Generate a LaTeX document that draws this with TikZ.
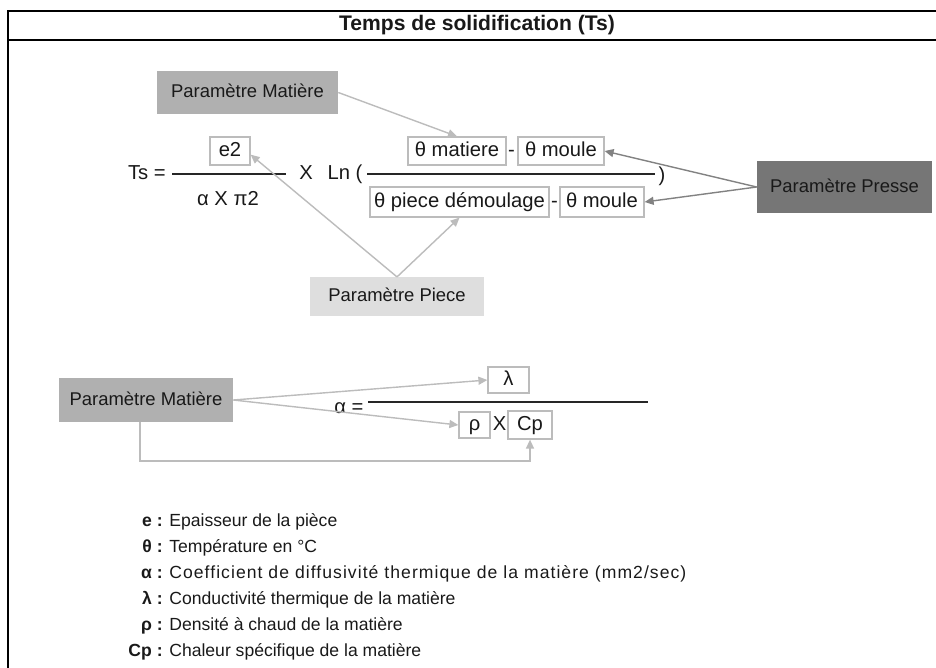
\documentclass[tikz,border=0pt]{standalone}
\usepackage{fontspec}
\setmainfont{Liberation Sans}
\usetikzlibrary{arrows.meta, positioning}

\definecolor{gmat}{RGB}{176,176,176}
\definecolor{gpresse}{RGB}{118,118,118}
\definecolor{gpiece}{RGB}{222,222,222}
\definecolor{gline}{RGB}{188,188,188}
\definecolor{gdark}{RGB}{130,130,130}

\begin{document}
\begin{tikzpicture}[
    x=0.02cm, y=-0.02cm,
    >={Triangle[length=1.8mm, width=1.6mm]},
    every node/.style={inner sep=0pt, text=black!90, font=\fontsize{11.5}{13}\selectfont,
        text height=1.6ex, text depth=0.45ex},
    frame/.style={draw=black, line width=1.2pt},
    title/.style={font=\fontsize{12}{14}\selectfont\bfseries},
    param/.style={draw=none, minimum height=#1, align=center, font=\fontsize{10.5}{12}\selectfont},
    matbox/.style={param=0.87cm, fill=gmat},
    pressebox/.style={param=1.05cm, fill=gpresse},
    piecebox/.style={param=0.77cm, fill=gpiece},
    valbox/.style={draw=gline, line width=0.7pt, fill=white, minimum height=0.56cm},
    frac/.style={draw=black!85, line width=0.8pt},
    garrow/.style={->, draw=gline, line width=0.8pt},
    parrow/.style={->, draw=gdark, line width=0.8pt},
    key/.style={anchor=base east, font=\fontsize{10}{12}\selectfont\bfseries},
    keytxt/.style={anchor=base west, font=\fontsize{10}{12}\selectfont}
]
\useasboundingbox (0,0) rectangle (936,667);

% cadre et titre
\draw[frame] (945,11) -- (8,11) -- (8,680);
\draw[frame] (8,40) -- (945,40);
\node[title] (title) at (477,25.5) {Temps de solidification (Ts)};

% formule Ts
\node[matbox, minimum width=3.62cm] (mat_top) at (247.5,92.5) {Paramètre Matière};
\node[anchor=east] (ts) at (166,174) {Ts =};
\coordinate (ts_l) at (172,174);
\coordinate (ts_r) at (286,174);
\draw[frac] (ts_l) -- (ts_r);
\node[valbox, minimum width=0.8cm] (e2) at (230,151) {e2};
\node (ts_den) at (228,200) {α X π2};
\node (times) at (306,174) {X};
\node (ln) at (345,174) {Ln (};
\coordinate (ln_l) at (367,174);
\coordinate (ln_r) at (655,174);
\draw[frac] (ln_l) -- (ln_r);
\node (ln_close) at (662,176) {)};

\node[valbox, minimum width=1.96cm] (th_mat) at (457,151) {θ matiere};
\node (minus_top) at (511.5,151) {-};
\node[valbox, minimum width=1.72cm] (th_moule_top) at (561,151) {θ moule};
\node[valbox, minimum width=3.58cm, minimum height=0.6cm] (th_piece) at (459.5,202) {θ piece démoulage};
\node (minus_bot) at (554.5,202) {-};
\node[valbox, minimum width=1.68cm, minimum height=0.6cm] (th_moule_bot) at (602,202) {θ moule};

\node[pressebox, minimum width=3.5cm] (presse) at (844.5,187) {Paramètre Presse};
\node[piecebox, minimum width=3.48cm] (piece) at (397,296.5) {Paramètre Piece};

\draw[garrow] (mat_top.east) -- (th_mat.north);
\draw[parrow] (presse.west) -- (th_moule_top.east);
\draw[parrow] (presse.west) -- (th_moule_bot.east);
\draw[garrow] (piece.north) -- (e2.-10);
\draw[garrow] (piece.north) -- (th_piece.south);

% formule alpha
\node[matbox, minimum width=3.48cm] (mat_bot) at (146,400) {Paramètre Matière};
\node (alpha_eq) at (349,408) {α =};
\coordinate (al_l) at (368,402);
\coordinate (al_r) at (648,402);
\draw[frac] (al_l) -- (al_r);
\node[valbox, minimum width=0.82cm, minimum height=0.52cm] (lambda) at (508.5,380) {λ};
\node[valbox, minimum width=0.62cm, minimum height=0.52cm] (rho) at (474.5,425) {ρ};
\node (times_b) at (499.5,425) {X};
\node[valbox, minimum width=0.88cm, minimum height=0.56cm] (cp) at (530,425) {Cp};

\draw[garrow] (mat_bot.east) -- (lambda.west);
\draw[garrow] (mat_bot.east) -- (rho.west);
\draw[garrow] ([xshift=-0.12cm]mat_bot.south) -- ++(0,39) -| (cp.south);

% legende
\node[key] (key_e) at (163,526) {e :};
\node[keytxt, right=1.2mm of key_e.base east, anchor=base west] {Epaisseur de la pièce};
\node[key] (key_theta) at (163,552) {θ :};
\node[keytxt, right=1.2mm of key_theta.base east, anchor=base west] {Température en °C};
\node[key] (key_alpha) at (163,578) {α :};
\node[keytxt, right=1.2mm of key_alpha.base east, anchor=base west, font=\fontsize{10}{12}\selectfont\addfontfeature{LetterSpace=6}] {Coefficient de diffusivité thermique de la matière (mm2/sec)};
\node[key] (key_lambda) at (163,604) {λ :};
\node[keytxt, right=1.2mm of key_lambda.base east, anchor=base west] {Conductivité thermique de la matière};
\node[key] (key_rho) at (163,630) {ρ :};
\node[keytxt, right=1.2mm of key_rho.base east, anchor=base west] {Densité à chaud de la matière};
\node[key] (key_cp) at (163,656) {Cp :};
\node[keytxt, right=1.2mm of key_cp.base east, anchor=base west] {Chaleur spécifique de la matière};

\end{tikzpicture}
\end{document}
